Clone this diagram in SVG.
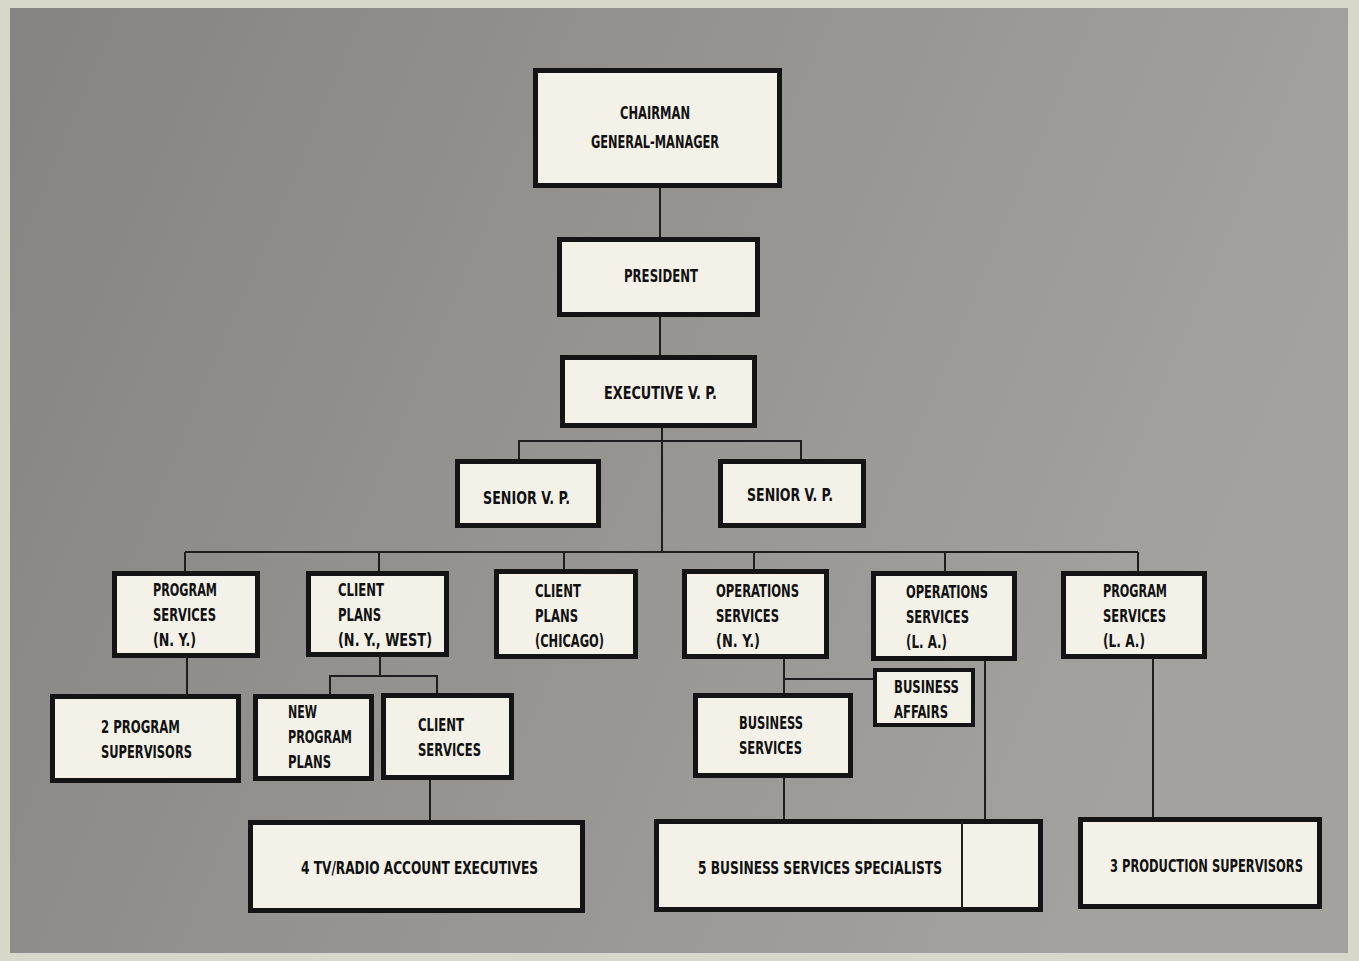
<svg xmlns="http://www.w3.org/2000/svg" width="1359" height="961" viewBox="0 0 1359 961">
<defs>
<linearGradient id="bg" x1="0" y1="0" x2="1" y2="0.3">
<stop offset="0" stop-color="#858482"/>
<stop offset="0.45" stop-color="#93928f"/>
<stop offset="1" stop-color="#a3a29e"/>
</linearGradient>
<style>
.box{fill:#f4f2e8;stroke:#141414;stroke-width:5}
.thin{fill:#f4f2e8;stroke:#141414;stroke-width:4}
.ln{stroke:#1e1e1e;stroke-width:2;fill:none}
text{font-family:"DejaVu Sans Condensed","DejaVu Sans","Liberation Sans",sans-serif;font-weight:bold;font-size:18px;fill:#111}
</style>
</defs>
<rect x="0" y="0" width="1359" height="961" fill="#d9d6ca"/>
<rect x="10" y="8" width="1338" height="945" fill="url(#bg)"/>
<g id="connectors">
<path class="ln" d="M660 188V237M660 317V355M662 428V552"/>
<path class="ln" d="M519 459V441H801V459"/>
<path class="ln" d="M185 552H1138M185 552V571M379 552V571M564 552V569M754 552V569M945 552V571M1138 552V571"/>
<path class="ln" d="M187 658V694"/>
<path class="ln" d="M380 657V676M330 694V676H437V693"/>
<path class="ln" d="M430 780V820"/>
<path class="ln" d="M784 659V693M784 679H873"/>
<path class="ln" d="M784 778V819"/>
<path class="ln" d="M985 661V819"/>
<path class="ln" d="M1153 659V817"/>
</g>
<g id="chairman"><rect class="box" x="535.5" y="70.5" width="244" height="115"/>
<text x="620" y="119" textLength="70" lengthAdjust="spacingAndGlyphs">CHAIRMAN</text>
<text x="591" y="148" textLength="128" lengthAdjust="spacingAndGlyphs">GENERAL-MANAGER</text></g>
<g id="president"><rect class="box" x="559.5" y="239.5" width="198" height="75"/>
<text x="624" y="282" textLength="74" lengthAdjust="spacingAndGlyphs">PRESIDENT</text></g>
<g id="exec-vp"><rect class="box" x="562.5" y="357.5" width="192" height="68"/>
<text x="604" y="399" textLength="113" lengthAdjust="spacingAndGlyphs">EXECUTIVE V. P.</text></g>
<g id="svp-left"><rect class="box" x="457.5" y="461.5" width="141" height="64"/>
<text x="483" y="504" textLength="87" lengthAdjust="spacingAndGlyphs">SENIOR V. P.</text></g>
<g id="svp-right"><rect class="box" x="720.5" y="461.5" width="143" height="64"/>
<text x="747" y="501" textLength="86" lengthAdjust="spacingAndGlyphs">SENIOR V. P.</text></g>
<g id="program-services-ny"><rect class="box" x="114.5" y="573.5" width="143" height="82"/>
<text x="153" y="596" textLength="64" lengthAdjust="spacingAndGlyphs">PROGRAM</text>
<text x="153" y="621" textLength="63" lengthAdjust="spacingAndGlyphs">SERVICES</text>
<text x="153" y="646" textLength="43" lengthAdjust="spacingAndGlyphs">(N. Y.)</text></g>
<g id="client-plans-ny-west"><rect class="box" x="308.5" y="573.5" width="138" height="81"/>
<text x="338" y="596" textLength="46" lengthAdjust="spacingAndGlyphs">CLIENT</text>
<text x="338" y="621" textLength="43" lengthAdjust="spacingAndGlyphs">PLANS</text>
<text x="338" y="646" textLength="94" lengthAdjust="spacingAndGlyphs">(N. Y., WEST)</text></g>
<g id="client-plans-chicago"><rect class="box" x="496.5" y="571.5" width="139" height="85"/>
<text x="535" y="597" textLength="46" lengthAdjust="spacingAndGlyphs">CLIENT</text>
<text x="535" y="622" textLength="43" lengthAdjust="spacingAndGlyphs">PLANS</text>
<text x="535" y="647" textLength="69" lengthAdjust="spacingAndGlyphs">(CHICAGO)</text></g>
<g id="operations-services-ny"><rect class="box" x="684.5" y="571.5" width="142" height="85"/>
<text x="716" y="597" textLength="83" lengthAdjust="spacingAndGlyphs">OPERATIONS</text>
<text x="716" y="622" textLength="63" lengthAdjust="spacingAndGlyphs">SERVICES</text>
<text x="716" y="647" textLength="44" lengthAdjust="spacingAndGlyphs">(N. Y.)</text></g>
<g id="operations-services-la"><rect class="box" x="873.5" y="573.5" width="141" height="85"/>
<text x="906" y="598" textLength="82" lengthAdjust="spacingAndGlyphs">OPERATIONS</text>
<text x="906" y="623" textLength="63" lengthAdjust="spacingAndGlyphs">SERVICES</text>
<text x="906" y="648" textLength="41" lengthAdjust="spacingAndGlyphs">(L. A.)</text></g>
<g id="program-services-la"><rect class="box" x="1063.5" y="573.5" width="141" height="83"/>
<text x="1103" y="597" textLength="64" lengthAdjust="spacingAndGlyphs">PROGRAM</text>
<text x="1103" y="622" textLength="63" lengthAdjust="spacingAndGlyphs">SERVICES</text>
<text x="1103" y="647" textLength="42" lengthAdjust="spacingAndGlyphs">(L. A.)</text></g>
<g id="program-supervisors"><rect class="box" x="52.5" y="696.5" width="186" height="84"/>
<text x="101" y="733" textLength="79" lengthAdjust="spacingAndGlyphs">2 PROGRAM</text>
<text x="101" y="758" textLength="91" lengthAdjust="spacingAndGlyphs">SUPERVISORS</text></g>
<g id="new-program-plans"><rect class="box" x="255.5" y="696.5" width="116" height="82"/>
<text x="288" y="718" textLength="29" lengthAdjust="spacingAndGlyphs">NEW</text>
<text x="288" y="743" textLength="64" lengthAdjust="spacingAndGlyphs">PROGRAM</text>
<text x="288" y="768" textLength="43" lengthAdjust="spacingAndGlyphs">PLANS</text></g>
<g id="client-services"><rect class="box" x="383.5" y="695.5" width="128" height="82"/>
<text x="418" y="731" textLength="46" lengthAdjust="spacingAndGlyphs">CLIENT</text>
<text x="418" y="756" textLength="63" lengthAdjust="spacingAndGlyphs">SERVICES</text></g>
<g id="business-services"><rect class="box" x="695.5" y="695.5" width="155" height="80"/>
<text x="739" y="729" textLength="64" lengthAdjust="spacingAndGlyphs">BUSINESS</text>
<text x="739" y="754" textLength="63" lengthAdjust="spacingAndGlyphs">SERVICES</text></g>
<g id="business-affairs"><rect class="thin" x="875" y="670" width="98" height="55"/>
<text x="894" y="693" textLength="65" lengthAdjust="spacingAndGlyphs">BUSINESS</text>
<text x="894" y="718" textLength="54" lengthAdjust="spacingAndGlyphs">AFFAIRS</text></g>
<g id="tv-radio-account-executives"><rect class="box" x="250.5" y="822.5" width="332" height="88"/>
<text x="301" y="874" textLength="237" lengthAdjust="spacingAndGlyphs">4 TV/RADIO ACCOUNT EXECUTIVES</text></g>
<g id="business-services-specialists"><rect class="box" x="656.5" y="821.5" width="384" height="88"/>
<line class="ln" x1="962" y1="821" x2="962" y2="910"/>
<text x="698" y="874" textLength="244" lengthAdjust="spacingAndGlyphs">5 BUSINESS SERVICES SPECIALISTS</text></g>
<g id="production-supervisors"><rect class="box" x="1080.5" y="819.5" width="239" height="87"/>
<text x="1110" y="872" textLength="193" lengthAdjust="spacingAndGlyphs">3 PRODUCTION SUPERVISORS</text></g>
</svg>
